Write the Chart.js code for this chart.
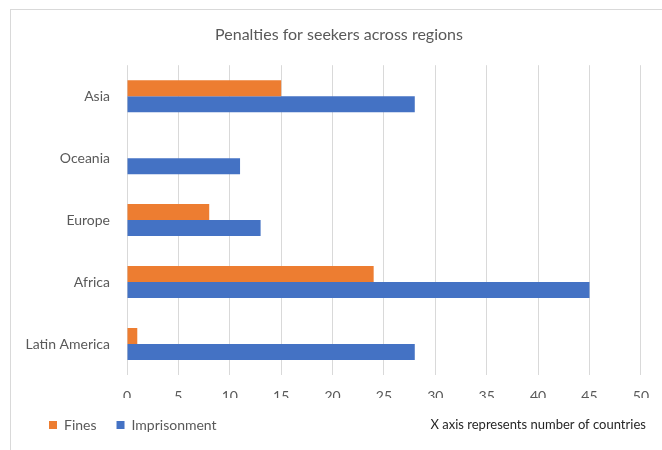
<!DOCTYPE html>
<html>
<head>
<meta charset="utf-8">
<script src="https://cdn.jsdelivr.net/npm/chart.js@4.4.1/dist/chart.umd.min.js"></script>
<style>
  body { margin: 0; background: #fff; }
  #frame { position: absolute; left: 10px; top: 9px; width: 700px; height: 500px; border: 1px solid #d9d9d9; }
  #wrap { position: absolute; left: 0; top: 0; width: 662px; height: 450px; }
</style>
</head>
<body>
<div id="frame"></div>
<div id="wrap"><canvas id="chart" width="662" height="450"></canvas></div>
<script>
// data
const regions = ['Asia', 'Oceania', 'Europe', 'Africa', 'Latin America'];
const fines = [15, 0, 8, 24, 1];
const imprisonment = [28, 11, 13, 45, 28];
const xMax = 50;
const xStep = 5;
const titleText = 'Penalties for seekers across regions';
const noteText = 'X axis represents number of countries';

const FONT = 'Lato';
const GREY = '#595959';
const LEGEND_PAD = 20;

// decale la legende et le titre pour coller a la reference
const shiftPlugin = {
  id: 'shift',
  afterLayout(chart) {
    chart.legend.left += 14;
    chart.legend.right += 14;
    chart.titleBlock.left += 11;
    chart.titleBlock.right += 11;
  }
};

// texte en bas a droite, sur la ligne de la legende
const notePlugin = {
  id: 'note',
  afterDraw(chart) {
    const ctx = chart.ctx;
    const y = chart.legend.top + LEGEND_PAD + 7;
    ctx.save();
    ctx.font = '13px ' + FONT;
    ctx.fillStyle = '#262626';
    ctx.textAlign = 'right';
    ctx.textBaseline = 'middle';
    ctx.fillText(noteText, chart.chartArea.right + 5, y);
    ctx.restore();
  }
};

const ctx = document.getElementById('chart').getContext('2d');
new Chart(ctx, {
  type: 'bar',
  data: {
    labels: regions,
    datasets: [
      { label: 'Fines', data: fines, backgroundColor: '#ED7D31', borderWidth: 0 },
      { label: 'Imprisonment', data: imprisonment, backgroundColor: '#4472C4', borderWidth: 0 }
    ]
  },
  options: {
    indexAxis: 'y',
    responsive: false,
    animation: false,
    categoryPercentage: 0.516,
    barPercentage: 1,
    layout: { padding: { left: 15, right: 21, top: 0, bottom: 12 } },
    plugins: {
      title: {
        display: true,
        text: titleText,
        color: GREY,
        font: { family: FONT, size: 16, weight: 'normal' },
        padding: { top: 25, bottom: 21 }
      },
      legend: {
        position: 'bottom',
        align: 'start',
        maxHeight: 40,
        labels: {
          boxWidth: 8,
          boxHeight: 8,
          padding: LEGEND_PAD,
          color: GREY,
          font: { family: FONT, size: 14 }
        }
      },
      tooltip: { enabled: false }
    },
    scales: {
      x: {
        min: 0,
        max: xMax,
        ticks: { stepSize: xStep, padding: 13, color: GREY, font: { family: FONT, size: 14 } },
        grid: { color: '#d9d9d9', lineWidth: 1, drawTicks: false },
        border: { display: false },
        afterFit: (scale) => { scale.height = 23; }
      },
      y: {
        ticks: { padding: 17, color: GREY, font: { family: FONT, size: 14 } },
        grid: { display: false, drawTicks: false },
        border: { display: false },
        afterFit: (scale) => { scale.width = 112; }
      }
    }
  },
  plugins: [shiftPlugin, notePlugin]
});
</script>
</body>
</html>
